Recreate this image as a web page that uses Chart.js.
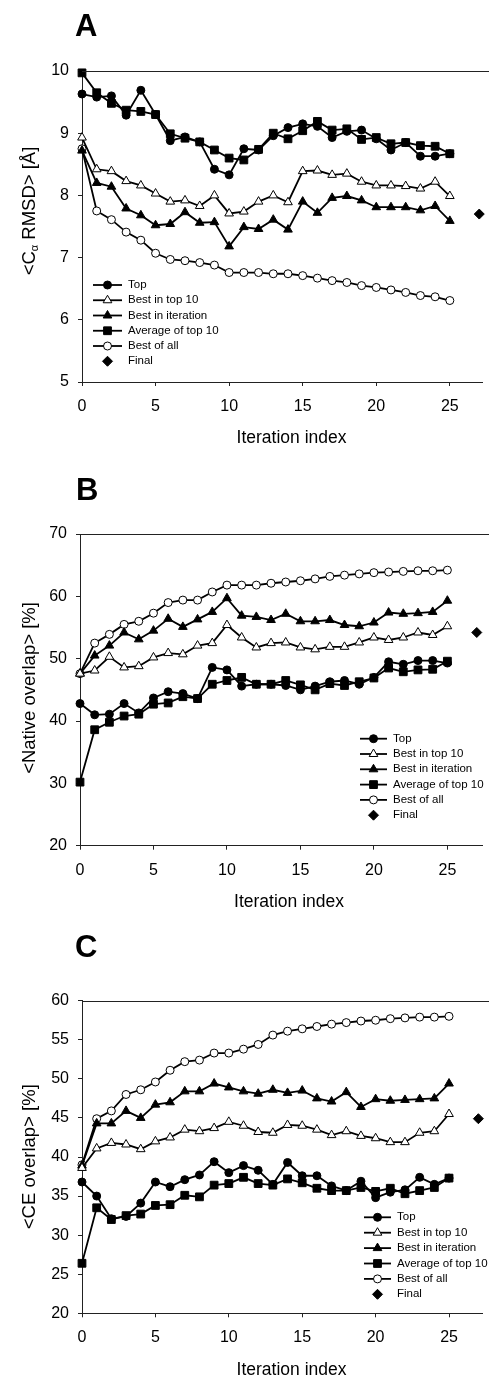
<!DOCTYPE html>
<html>
<head>
<meta charset="utf-8">
<script src="https://cdn.jsdelivr.net/npm/chart.js@4/dist/chart.umd.min.js"></script>
<style>
html, body { margin:0; padding:0; background:#fff; overflow:hidden; width:489px; height:1377px; }
.panel { position:absolute; left:0; width:489px; height:460px; }
canvas { display:block; }
</style>
</head>
<body>
<div class="panel" style="top:0px"><canvas id="chartA" width="489" height="460"></canvas></div>
<div class="panel" style="top:463px"><canvas id="chartB" width="489" height="460"></canvas></div>
<div class="panel" style="top:930px"><canvas id="chartC" width="489" height="460"></canvas></div>
<script>
// ---------------- DATA ----------------
const iterations = [0,1,2,3,4,5,6,7,8,9,10,11,12,13,14,15,16,17,18,19,20,21,22,23,24,25];
const finalIteration = 27;
const xTickValues = [0,5,10,15,20,25];
const seriesNames = ['Top','Best in top 10','Best in iteration','Average of top 10','Best of all','Final'];

// Panel A: <Cα RMSD> [Å]
const topA       = [9.63,9.58,9.60,9.29,9.69,9.30,8.88,8.94,8.86,8.42,8.33,8.75,8.73,8.96,9.09,9.15,9.11,8.93,9.03,9.05,8.91,8.73,8.85,8.63,8.63,8.67];
const bestTop10A = [8.93,8.42,8.39,8.23,8.16,8.03,7.90,7.92,7.83,8.00,7.71,7.74,7.90,8.00,7.89,8.39,8.40,8.33,8.35,8.22,8.16,8.16,8.15,8.11,8.22,7.99];
const bestIterA  = [8.72,8.20,8.14,7.79,7.68,7.52,7.54,7.73,7.56,7.57,7.18,7.49,7.46,7.61,7.45,7.90,7.72,7.96,7.99,7.92,7.81,7.81,7.81,7.76,7.83,7.59];
const avgTop10A  = [9.97,9.65,9.48,9.37,9.35,9.30,8.99,8.92,8.86,8.73,8.60,8.57,8.74,9.00,8.91,9.04,9.19,9.05,9.07,8.90,8.93,8.83,8.85,8.80,8.79,8.67];
const bestAllA   = [8.75,7.75,7.61,7.41,7.28,7.07,6.97,6.95,6.92,6.88,6.76,6.76,6.76,6.74,6.74,6.71,6.67,6.63,6.60,6.55,6.52,6.48,6.44,6.39,6.37,6.31];
const finalA     = 7.70;
const yTicksA    = [5,6,7,8,9,10];

// Panel B: <Native overlap> [%]
const topB       = [42.8,41.0,41.1,42.8,41.3,43.7,44.7,44.4,43.6,48.6,48.2,45.6,45.9,45.9,45.7,45.0,45.6,46.3,46.5,45.9,47.0,49.5,49.1,49.7,49.7,49.3];
const bestTop10B = [47.6,48.1,50.3,48.6,48.8,50.2,50.9,50.7,52.1,52.5,55.4,53.4,51.8,52.5,52.6,51.8,51.5,51.9,51.9,52.6,53.4,53.0,53.4,54.2,53.8,55.2];
const bestIterB  = [47.6,50.5,52.1,54.2,53.1,54.5,56.4,55.1,56.3,57.5,59.7,56.9,56.7,56.2,57.2,56.0,56.0,56.2,55.4,55.2,55.8,57.4,57.2,57.3,57.5,59.3];
const avgTop10B  = [30.2,38.6,39.8,40.8,41.1,42.7,42.9,43.9,43.6,45.9,46.5,47.0,45.9,45.9,46.5,45.8,45.0,46.0,45.7,46.3,46.9,48.5,47.9,48.2,48.3,49.6];
const bestAllB   = [47.6,52.5,53.9,55.5,56.0,57.3,59.0,59.4,59.4,60.7,61.8,61.8,61.8,62.1,62.3,62.5,62.8,63.2,63.4,63.6,63.8,63.9,64.0,64.1,64.1,64.2];
const finalB     = 54.2;
const yTicksB    = [20,30,40,50,60,70];

// Panel C: <CE overlap> [%]
const topC       = [36.8,35.0,32.1,32.4,34.1,36.8,36.2,37.1,37.7,39.4,38.0,38.9,38.3,36.5,39.3,37.6,37.6,36.3,35.7,36.9,34.8,35.5,35.8,37.4,36.5,37.3];
const bestTop10C = [38.6,41.1,41.8,41.6,41.0,42.0,42.5,43.5,43.3,43.7,44.5,44.0,43.2,43.1,44.1,44.0,43.5,42.8,43.3,42.7,42.4,41.9,41.9,43.1,43.3,45.5];
const bestIterC  = [38.9,44.3,44.3,45.9,45.0,46.7,47.0,48.4,48.4,49.4,48.9,48.4,48.1,48.6,48.2,48.5,47.5,47.1,48.3,46.4,47.4,47.2,47.3,47.4,47.5,49.4];
const avgTop10C  = [26.4,33.5,32.0,32.5,32.7,33.8,33.9,35.1,34.9,36.4,36.6,37.4,36.6,36.4,37.2,36.7,36.0,35.7,35.7,36.1,35.6,36.0,35.3,35.7,36.1,37.3];
const bestAllC   = [39.0,44.9,45.9,48.0,48.6,49.6,51.1,52.2,52.4,53.3,53.3,53.8,54.4,55.6,56.1,56.4,56.7,57.0,57.2,57.4,57.5,57.7,57.8,57.9,57.9,58.0];
const finalC     = 44.9;
const yTicksC    = [20,25,30,35,40,45,50,55,60];

// ---------------- STYLES ----------------
const FONT = '"Liberation Sans", Arial, Helvetica, sans-serif';
const INK = '#000';
const AXIS = '#222';
const LINE_W = 1.8;
const markerStyles = [
  { pointStyle:'circle',   radius:4,   fill:'#000' },
  { pointStyle:'triangle', radius:5,   fill:'#fff' },
  { pointStyle:'triangle', radius:5,   fill:'#000' },
  { pointStyle:'rect',     radius:5.5, fill:'#000' },
  { pointStyle:'circle',   radius:4,   fill:'#fff' },
  { pointStyle:'rectRot',  radius:5,   fill:'#000' }
];

function drawMarker(ctx, st, x, y) {
  ctx.save();
  ctx.fillStyle = st.fill;
  ctx.strokeStyle = INK;
  ctx.lineWidth = 1;
  Chart.helpers.drawPoint(ctx, { pointStyle: st.pointStyle, radius: st.radius, rotation: 0, borderWidth: 1 }, x, y);
  ctx.restore();
}

function makeAnnotator(o) {
  return {
    id: 'annotate',
    afterDraw(chart) {
      const ctx = chart.ctx, a = chart.chartArea;
      ctx.save();
      // top frame line
      ctx.strokeStyle = AXIS; ctx.lineWidth = 1;
      ctx.beginPath(); ctx.moveTo(a.left, Math.round(a.top) + 0.5); ctx.lineTo(chart.width, Math.round(a.top) + 0.5); ctx.stroke();
      // panel letter
      ctx.fillStyle = INK;
      ctx.textAlign = 'left'; ctx.textBaseline = 'alphabetic';
      ctx.font = 'bold 31px ' + FONT;
      ctx.fillText(o.letter, o.letterX, o.letterY);
      // x title
      ctx.font = '17.5px ' + FONT;
      ctx.textAlign = 'center';
      ctx.fillText(o.xTitle, o.xTitleX, o.xTitleY);
      // y title (rotated, with optional subscript)
      ctx.save();
      ctx.translate(o.yTitleX, o.yTitleY);
      ctx.rotate(-Math.PI / 2);
      ctx.textAlign = 'left';
      let total = 0;
      o.yTitle.forEach(p => { ctx.font = p.size + 'px ' + FONT; total += ctx.measureText(p.text).width; });
      let x = -total / 2;
      o.yTitle.forEach(p => {
        ctx.font = p.size + 'px ' + FONT;
        ctx.fillText(p.text, x, p.dy);
        x += ctx.measureText(p.text).width;
      });
      ctx.restore();
      // legend
      ctx.font = '11.5px ' + FONT;
      ctx.textAlign = 'left'; ctx.textBaseline = 'middle';
      seriesNames.forEach((name, i) => {
        const y = o.legendY + i * o.legendStep;
        const st = markerStyles[i];
        if (st.pointStyle !== 'rectRot') {
          ctx.strokeStyle = INK; ctx.lineWidth = LINE_W;
          ctx.beginPath(); ctx.moveTo(o.legendX1, y); ctx.lineTo(o.legendX2, y); ctx.stroke();
        }
        drawMarker(ctx, st, (o.legendX1 + o.legendX2) / 2, y);
        ctx.fillStyle = INK;
        ctx.fillText(name, o.legendTextX, y);
      });
      ctx.restore();
    }
  };
}

function makePanel(canvasId, seriesList, finalValue, yTicks, L) {
  const H = 460, xAxisH = 40;
  const datasets = seriesList.map((vals, i) => ({
    label: seriesNames[i],
    data: iterations.map((it, k) => ({ x: it, y: vals[k] })),
    borderColor: INK,
    borderWidth: LINE_W,
    pointStyle: markerStyles[i].pointStyle,
    pointRadius: markerStyles[i].radius,
    pointBackgroundColor: markerStyles[i].fill,
    pointBorderColor: INK,
    pointBorderWidth: 1,
    tension: 0,
    fill: false,
    clip: false
  }));
  datasets.push({
    label: seriesNames[5],
    data: [{ x: finalIteration, y: finalValue }],
    showLine: false,
    pointStyle: markerStyles[5].pointStyle,
    pointRadius: markerStyles[5].radius,
    pointBackgroundColor: markerStyles[5].fill,
    pointBorderColor: INK,
    pointBorderWidth: 1,
    clip: false
  });
  new Chart(document.getElementById(canvasId), {
    type: 'line',
    data: { datasets },
    options: {
      responsive: false,
      animation: false,
      events: [],
      layout: { padding: { top: L.top, bottom: H - L.bottom - xAxisH, left: 0, right: 0 } },
      plugins: {
        legend: { display: false },
        tooltip: { enabled: false },
        title: { display: false }
      },
      scales: {
        x: {
          type: 'linear',
          min: 0,
          max: L.xMax,
          afterBuildTicks: s => { s.ticks = xTickValues.map(v => ({ value: v })); },
          afterFit: s => { s.height = xAxisH; },
          grid: { display: true, drawOnChartArea: false, drawTicks: true, tickLength: 4, color: AXIS, tickColor: AXIS },
          border: { display: true, color: AXIS, width: 1 },
          ticks: { color: INK, font: { family: FONT, size: 16 }, padding: 11, maxRotation: 0 }
        },
        y: {
          type: 'linear',
          min: yTicks[0],
          max: yTicks[yTicks.length - 1],
          afterBuildTicks: s => { s.ticks = yTicks.map(v => ({ value: v })); },
          afterFit: s => { s.width = L.left; },
          grid: { display: true, drawOnChartArea: false, drawTicks: true, tickLength: 4, color: AXIS, tickColor: AXIS },
          border: { display: true, color: AXIS, width: 1 },
          ticks: { color: INK, font: { family: FONT, size: 16 }, padding: 9 }
        }
      }
    },
    plugins: [makeAnnotator(L.annot)]
  });
}

makePanel('chartA', [topA, bestTop10A, bestIterA, avgTop10A, bestAllA], finalA, yTicksA, {
  top: 71, bottom: 382, left: 82, xMax: 27.22,
  annot: {
    letter: 'A', letterX: 75, letterY: 36,
    xTitle: 'Iteration index', xTitleX: 291.5, xTitleY: 443,
    yTitleX: 34.5, yTitleY: 211,
    yTitle: [ { text: '<C', size: 18.5, dy: 0 }, { text: 'α', size: 11, dy: 3 }, { text: ' RMSD> [Å]', size: 18.5, dy: 0 } ],
    legendX1: 93, legendX2: 122, legendTextX: 128, legendY: 285, legendStep: 15.25
  }
});

makePanel('chartB', [topB, bestTop10B, bestIterB, avgTop10B, bestAllB], finalB, yTicksB, {
  top: 71, bottom: 382.7, left: 80, xMax: 27.39,
  annot: {
    letter: 'B', letterX: 76, letterY: 37,
    xTitle: 'Iteration index', xTitleX: 289, xTitleY: 444,
    yTitleX: 34.5, yTitleY: 225,
    yTitle: [ { text: '<Native overlap> [%]', size: 18.5, dy: 0 } ],
    legendX1: 360, legendX2: 387, legendTextX: 393, legendY: 275.7, legendStep: 15.3
  }
});

makePanel('chartC', [topC, bestTop10C, bestIterC, avgTop10C, bestAllC], finalC, yTicksC, {
  top: 70.7, bottom: 383.3, left: 82, xMax: 27.28,
  annot: {
    letter: 'C', letterX: 75, letterY: 26.7,
    xTitle: 'Iteration index', xTitleX: 291.5, xTitleY: 445,
    yTitleX: 34.5, yTitleY: 226.7,
    yTitle: [ { text: '<CE overlap> [%]', size: 18.5, dy: 0 } ],
    legendX1: 364, legendX2: 391, legendTextX: 397, legendY: 287.3, legendStep: 15.4
  }
});
</script>
</body>
</html>
